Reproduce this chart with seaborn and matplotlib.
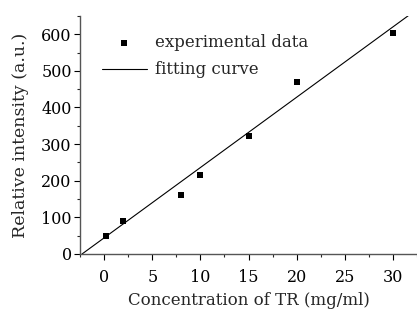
import numpy as np
import pandas as pd
import seaborn as sns
import matplotlib
matplotlib.use("Agg")
import matplotlib.pyplot as plt
from matplotlib.ticker import MultipleLocator

# Data
conc = [0.2, 2, 8, 10, 15, 20, 30]
intensity = [50, 90, 160, 215, 322, 470, 603]
fit_x = [-2.3, 32.0]
fit_slope = 19.2
fit_intercept = 44.0
fit_y = [fit_slope * v + fit_intercept for v in fit_x]

sns.set_style("ticks")
plt.rcParams['font.family'] = ['DejaVu Serif']
plt.rcParams['mathtext.fontset'] = 'dejavuserif'

fig = plt.figure(figsize=(4.17, 3.12), dpi=100)
ax = fig.add_axes([0.192, 0.186, 0.808, 0.763])

df = pd.DataFrame({"x": conc, "y": intensity})
fit_df = pd.DataFrame({"x": fit_x, "y": fit_y})

sns.lineplot(data=fit_df, x="x", y="y", ax=ax, color="black", linewidth=0.8,
             label="fitting curve", legend=False)
sns.scatterplot(data=df, x="x", y="y", ax=ax, color="black", marker="s", s=22,
                edgecolor="black", linewidth=0, label="experimental data", legend=False, zorder=3)

ax.set_xlim(-2.5, 32.5)
ax.set_ylim(0, 650)
ax.xaxis.set_major_locator(MultipleLocator(5))
ax.xaxis.set_minor_locator(MultipleLocator(2.5))
ax.yaxis.set_major_locator(MultipleLocator(100))
ax.yaxis.set_minor_locator(MultipleLocator(50))
ax.tick_params(axis='both', which='major', direction='out', length=4, width=0.8,
               labelsize=11.5, colors='black')
ax.tick_params(axis='x', which='major', pad=7)
ax.tick_params(axis='y', which='major', pad=2)
ax.tick_params(axis='both', which='minor', direction='out', length=2.5, width=0.8)
sns.despine(ax=ax)
for s in ['left', 'bottom']:
    ax.spines[s].set_color('#555555')
    ax.spines[s].set_linewidth(1.0)

ax.set_xlabel("Concentration of TR (mg/ml)", fontsize=12, labelpad=4)
ax.set_ylabel("Relative intensity (a.u.)", fontsize=12.5, labelpad=9)

handles, labels = ax.get_legend_handles_labels()
order = [labels.index("experimental data"), labels.index("fitting curve")]
ax.legend([handles[i] for i in order], [labels[i] for i in order],
          loc='upper left', bbox_to_anchor=(0.02, 0.985), frameon=False,
          fontsize=12, handlelength=2.7, handletextpad=0.5, labelspacing=0.6)

fig.savefig("out.png", dpi=100)
